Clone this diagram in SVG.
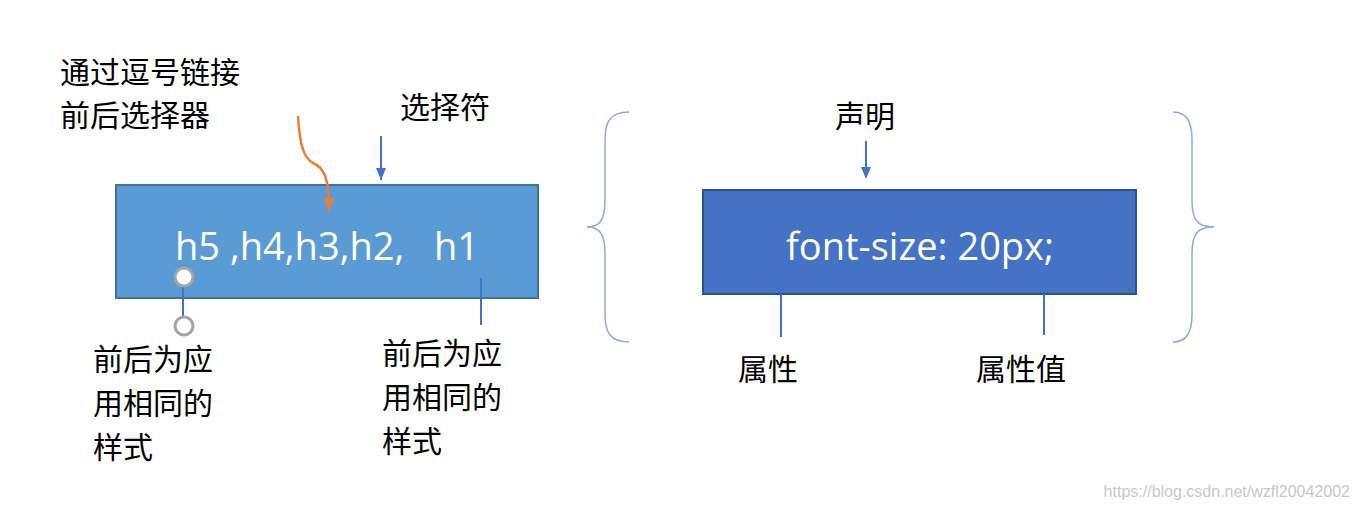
<svg xmlns="http://www.w3.org/2000/svg" width="1360" height="511" viewBox="0 0 1360 511">
<style>
.t{font-family:"Noto Sans CJK SC","Noto Sans",sans-serif;font-size:30px;fill:#000}
.w{font-family:"Open Sans","Noto Sans",sans-serif;font-size:38px;fill:#fff}
.ln{stroke:#4472C4;stroke-width:2;fill:none}
.br{stroke:#8FAADC;stroke-width:1.5;fill:none}
</style>
<defs>
<marker id="ab" markerWidth="10" markerHeight="10" refX="5" refY="9" orient="auto" markerUnits="userSpaceOnUse" viewBox="0 0 10 10"><path d="M0,0 L10,0 L5,10 Z" fill="#4472C4" transform="rotate(0)"/></marker>
<marker id="ao" markerWidth="10" markerHeight="12" refX="5" refY="11" markerUnits="userSpaceOnUse" viewBox="0 0 10 12"><path d="M0,0 L10,0 L5,12 Z" fill="#ED7D31"/></marker>
</defs>
<rect width="1360" height="511" fill="#fff"/>
<g id="selector-box"><rect x="116" y="185" width="422" height="113" fill="#5B9BD5" stroke="#41719C" stroke-width="2"/><text class="w" x="327" y="260" text-anchor="middle" xml:space="preserve">h5 ,h4,h3,h2,   h1</text></g>
<g id="decl-box"><rect x="703" y="190" width="433" height="104" fill="#4472C4" stroke="#2F528F" stroke-width="2"/><text class="w" x="920" y="260" text-anchor="middle">font-size: 20px;</text></g>
<g id="connectors">
<path class="ln" d="M381,136 V180"/><path d="M376,168 L386,168 L381,180 Z" fill="#4472C4"/>
<path class="ln" d="M866,141 V177"/><path d="M861,167 L871,167 L866,179 Z" fill="#4472C4"/>
<path d="M298,116 C300,150 305,158 313,163 C325,168 328,180 329,200" stroke="#ED7D31" stroke-width="2.5" fill="none"/><path d="M324,198 L334,198 L329,212 Z" fill="#ED7D31"/>
<path class="ln" d="M183,287 V317"/>
<circle cx="184" cy="277" r="9" fill="#fff" stroke="#A5A5A5" stroke-width="3"/>
<circle cx="184" cy="326" r="9" fill="#fff" stroke="#A5A5A5" stroke-width="3"/>
<path class="ln" d="M481,278 V325"/>
<path class="ln" d="M781,294 V337"/><path class="ln" d="M1044,294 V335"/>
<path class="br" d="M629,112 C610,112 605,122 605,140 V200 C605,220 600,227 587,227 C600,227 605,234 605,254 V314 C605,332 610,342 629,342"/>
<path class="br" d="M1173,112 C1187,112 1192,122 1192,140 V200 C1192,220 1197,227 1214,227 C1197,227 1192,234 1192,254 V314 C1192,332 1187,342 1173,342"/>
</g>
<g id="labels">
<text class="t" x="60" y="83">通过逗号链接</text>
<text class="t" x="60" y="126">前后选择器</text>
<text class="t" x="400" y="118">选择符</text>
<text class="t" x="835" y="127">声明</text>
<text class="t" x="93" y="370">前后为应</text>
<text class="t" x="93" y="414">用相同的</text>
<text class="t" x="93" y="458">样式</text>
<text class="t" x="382" y="364">前后为应</text>
<text class="t" x="382" y="408">用相同的</text>
<text class="t" x="382" y="452">样式</text>
<text class="t" x="738" y="380">属性</text>
<text class="t" x="976" y="380">属性值</text>
<text x="1350" y="497" text-anchor="end" font-family="Liberation Sans,sans-serif" font-size="16" fill="#C8C8C8">https://blog.csdn.net/wzfl20042002</text>
</g>
</svg>
